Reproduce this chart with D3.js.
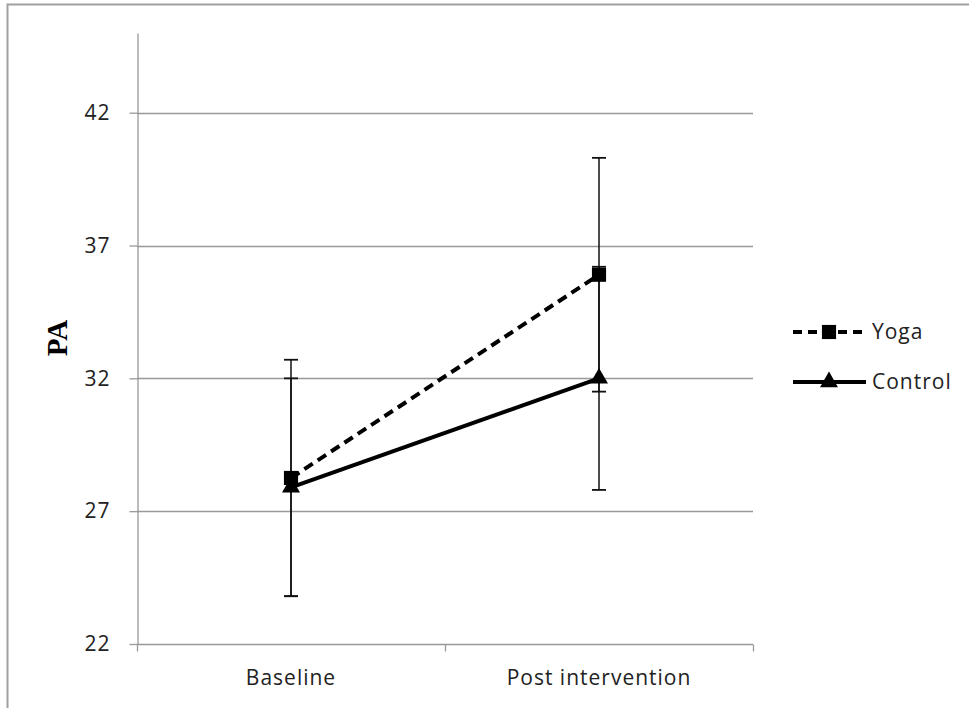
<!DOCTYPE html>
<html>
<head>
<meta charset="utf-8">
<script src="https://cdn.jsdelivr.net/npm/d3@7"></script>
<style>
body{margin:0;background:#fff;}
svg{display:block;}
</style>
</head>
<body>
<svg id="chart" width="969" height="708"></svg>
<script>
const categories = ["Baseline", "Post intervention"];
const seriesNames = ["Yoga", "Control"];
const yogaValues = [28.25, 35.9];
const yogaErrors = [4.45, 4.4];
const controlValues = [27.9, 32.0];
const controlErrors = [4.1, 4.2];
const yTicks = [22, 27, 32, 37, 42];
const yDomain = [22, 45];

const series = [
  {name: seriesNames[0], values: yogaValues, errors: yogaErrors, dash: "10,6", marker: "square"},
  {name: seriesNames[1], values: controlValues, errors: controlErrors, dash: null, marker: "triangle"}
];

const svg = d3.select("#chart");
const pLeft = 137, pRight = 753, pTop = 33, pBottom = 644;
const font = "Open Sans, sans-serif", fs = 21, ls = 1;

// outer border
svg.append("rect").attr("x", 7.5).attr("y", 4.5).attr("width", 975).attr("height", 720)
  .attr("fill", "none").attr("stroke", "#a0a0a0").attr("stroke-width", 2);

const y = d3.scaleLinear().domain(yDomain).range([pBottom, pTop]);
const x = d3.scaleBand().domain(categories).range([pLeft, pRight]).padding(0);
const cx = c => x(c) + x.bandwidth() / 2;

// gridlines
svg.append("g").selectAll("line").data(yTicks.slice(1)).join("line")
  .attr("x1", pLeft).attr("x2", pRight)
  .attr("y1", d => Math.round(y(d)) + 0.5).attr("y2", d => Math.round(y(d)) + 0.5)
  .attr("stroke", "#999").attr("stroke-width", 1.3);

// y axis
const yAxis = d3.axisLeft(y).tickValues(yTicks).tickSize(8).tickSizeOuter(0).tickPadding(19);
const gy = svg.append("g").attr("transform", `translate(${pLeft + 0.5},0)`).call(yAxis);
gy.select(".domain").attr("stroke", "#999").attr("stroke-width", 1.3);
gy.selectAll(".tick line").attr("stroke", "#999").attr("stroke-width", 1.3);
gy.selectAll(".tick text").attr("font-family", font).attr("font-size", fs)
  .attr("letter-spacing", ls).attr("fill", "#222");

// x axis
const gx = svg.append("g").attr("transform", `translate(0,${Math.round(y(22)) + 0.5})`);
gx.append("line").attr("x1", pLeft).attr("x2", pRight).attr("stroke", "#999").attr("stroke-width", 1.3);
const bounds = [pLeft].concat(categories.map(c => x(c) + x.bandwidth()));
gx.selectAll("line.t").data(bounds).join("line").attr("class", "t")
  .attr("x1", d => d + 0.5).attr("x2", d => d + 0.5).attr("y1", 0).attr("y2", 7)
  .attr("stroke", "#999").attr("stroke-width", 1.3);
gx.selectAll("text").data(categories).join("text")
  .attr("x", d => cx(d)).attr("y", 40).attr("text-anchor", "middle")
  .attr("font-family", font).attr("font-size", fs).attr("letter-spacing", ls).attr("fill", "#222")
  .text(d => d);

// y label
svg.append("text").attr("transform", "translate(67,338) rotate(-90)")
  .attr("text-anchor", "middle").attr("font-family", "Liberation Serif, Times New Roman, serif")
  .attr("font-weight", "bold").attr("font-size", 29).attr("fill", "#000").text("PA");

// error bars
series.forEach(s => {
  const g = svg.append("g");
  categories.forEach((c, i) => {
    const xx = cx(c), hi = y(s.values[i] + s.errors[i]), lo = y(s.values[i] - s.errors[i]);
    g.append("line").attr("x1", xx).attr("x2", xx).attr("y1", hi).attr("y2", lo).attr("stroke", "#111").attr("stroke-width", 1.5);
    [hi, lo].forEach(v => g.append("line").attr("x1", xx - 7).attr("x2", xx + 7).attr("y1", v).attr("y2", v).attr("stroke", "#111").attr("stroke-width", 1.8));
  });
});

const line = d3.line().x((d, i) => cx(categories[i])).y(d => y(d));
const sq = d3.symbol().type(d3.symbolSquare).size(200);
const tri = d3.symbol().type(d3.symbolTriangle).size(140);

series.forEach(s => {
  svg.append("path").datum(s.values).attr("d", line).attr("fill", "none")
    .attr("stroke", "#000").attr("stroke-width", 4).attr("stroke-dasharray", s.dash);
  svg.append("g").selectAll("path").data(s.values).join("path")
    .attr("transform", (d, i) => `translate(${cx(categories[i])},${y(d)})`)
    .attr("d", s.marker === "square" ? sq : tri).attr("fill", "#000");
});

// legend
const leg = svg.append("g");
series.forEach((s, i) => {
  const ly = 332 + i * 50;
  leg.append("line").attr("x1", 793).attr("x2", 866).attr("y1", ly).attr("y2", ly)
    .attr("stroke", "#000").attr("stroke-width", 4).attr("stroke-dasharray", s.dash ? "9,6" : null);
  leg.append("path").attr("transform", `translate(829,${ly})`)
    .attr("d", s.marker === "square" ? sq : tri).attr("fill", "#000");
  leg.append("text").attr("x", 872).attr("y", ly + 7).attr("font-family", font)
    .attr("font-size", fs).attr("letter-spacing", ls).attr("fill", "#222").text(s.name);
});
</script>
</body>
</html>
